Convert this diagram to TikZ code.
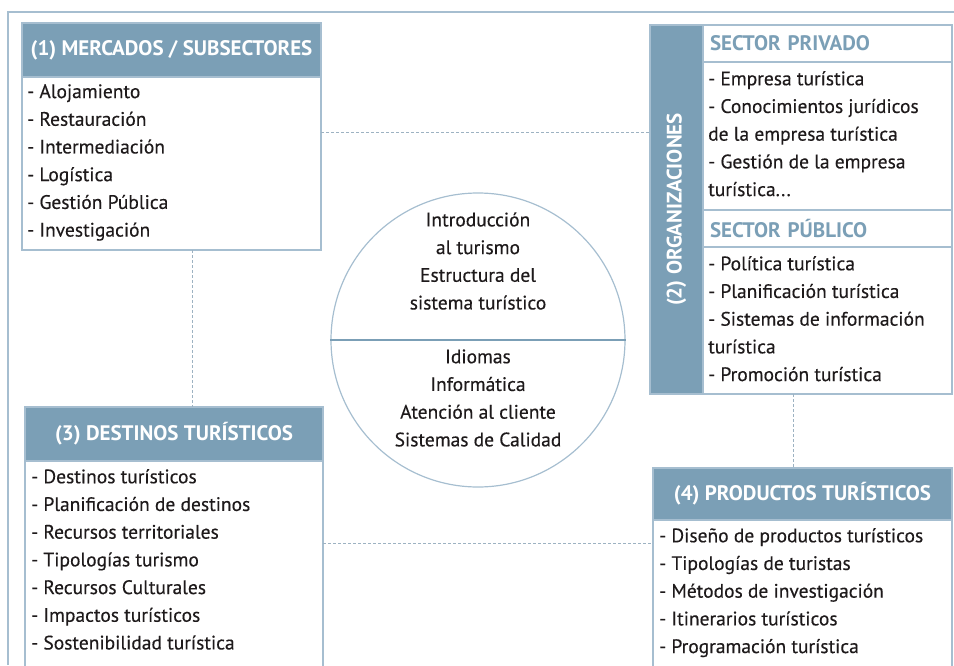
\documentclass[tikz,border=0pt]{standalone}
\usepackage{fontspec}
\setmainfont{PT Sans}
\newfontfamily\listfamily{PT Sans}[FakeBold=0.35]
\usetikzlibrary{positioning}
\definecolor{hdrblue}{HTML}{7B9FB6}
\definecolor{lineblue}{HTML}{A6BED0}
\definecolor{linkgrey}{HTML}{9DB2C2}
\definecolor{inkblack}{HTML}{1E1A1B}
\newcommand{\basefont}{\listfamily\fontsize{19.5pt}{27.7pt}\selectfont}
\newcommand{\headfont}{\fontsize{21pt}{25pt}\selectfont\bfseries}
\tikzset{
  hdr/.style ={fill=hdrblue, draw=lineblue, line width=1.2pt, text=white,
               font=\headfont, inner sep=0pt, outer sep=0pt, anchor=north west},
  frm/.style ={draw=lineblue, line width=1.5pt, inner sep=0pt, outer sep=0pt},
  lst/.style ={align=left, inner sep=0pt, text=inkblack, font=\basefont},
  sub/.style ={draw=lineblue, line width=1.5pt, inner xsep=7pt, inner ysep=0pt,
               outer sep=0pt, text width=235pt, align=left, font=\headfont,
               text=hdrblue, anchor=north west},
  ball/.style={circle, draw=lineblue, line width=1.2pt, minimum size=294pt,
               inner sep=0pt},
  ctxt/.style={align=center, inner sep=0pt, text=inkblack, font=\basefont},
  link/.style={draw=linkgrey, line width=0.9pt, dash pattern=on 3pt off 2pt},
  rim/.style ={draw=lineblue, line width=1.3pt},
}
\begin{document}
\begin{tikzpicture}[x=1pt, y=-1pt]
  \clip (0,0) rectangle (954,665);
  \draw[rim] (8,665) -- (8,12) -- (954,12);
  % ---- (1) mercados / subsectores
  \node[hdr, minimum width=299pt, minimum height=54pt] (mh) at (22,23)
    {(1) MERCADOS / SUBSECTORES};
  \node[frm, minimum width=299pt, minimum height=173pt, below=0pt of mh] (mb) {};
  \node[lst, below right=7pt and 5pt of mb.north west] (ml)
    {- Alojamiento\\- Restauración\\- Intermediación\\- Logística\\
     - Gestión Pública\\- Investigación};
  % ---- (2) organizaciones
  \node[hdr, minimum width=53pt, minimum height=369pt] (ob) at (650,25) {};
  \node[hdr, anchor=center, draw=none, rotate=90] (ot) at (ob.center)
    {(2) ORGANIZACIONES};
  \node[sub, minimum height=37pt] (pph) at (ob.north east) {SECTOR PRIVADO};
  \node[frm, minimum width=249pt, minimum height=148pt, below=0pt of pph] (ppb) {};
  \node[lst, below right=9pt and 5pt of ppb.north west] (ppl)
    {- Empresa turística\\- Conocimientos jurídicos\\de la empresa turística\\
     - Gestión de la empresa\\turística...};
  \node[sub, minimum height=37pt, below=0pt of ppb.south west, anchor=north west]
    (puh) {SECTOR PÚBLICO};
  \node[frm, minimum width=249pt, minimum height=147pt, below=0pt of puh] (pub) {};
  \node[lst, below right=9pt and 5pt of pub.north west] (pul)
    {- Política turística\\- Planificación turística\\- Sistemas de información\\
     turística\\- Promoción turística};
  % ---- (3) destinos
  \node[hdr, minimum width=298pt, minimum height=54pt] (dh) at (25,407)
    {(3) DESTINOS TURÍSTICOS};
  \node[frm, minimum width=298pt, minimum height=230pt, below=0pt of dh] (db) {};
  \node[lst, below right=8pt and 6pt of db.north west] (dl)
    {- Destinos turísticos\\- Planificación de destinos\\- Recursos territoriales\\
     - Tipologías turismo\\- Recursos Culturales\\- Impactos turísticos\\
     - Sostenibilidad turística};
  % ---- (4) productos
  \node[hdr, minimum width=299pt, minimum height=52pt] (ph) at (653,468)
    {(4) PRODUCTOS TURÍSTICOS};
  \node[frm, minimum width=299pt, minimum height=230pt, below=0pt of ph] (pb) {};
  \node[lst, below right=8pt and 6pt of pb.north west] (pl)
    {- Diseño de productos turísticos\\- Tipologías de turistas\\
     - Métodos de investigación\\- Itinerarios turísticos\\
     - Programación turística};
  % ---- centre
  \node[ball] (cb) at (478,340) {};
  \draw[line width=2.5pt, hdrblue] (cb.west) -- (cb.east);
  \node[ctxt] (ct) at (478,261)
    {Introducción\\al turismo\\Estructura del\\sistema turístico};
  \node[ctxt] (cl) at (478,398)
    {Idiomas\\Informática\\Atención al cliente\\Sistemas de Calidad};
  % ---- links
  \draw[link] ([yshift=31.5pt]mb.east) -- ([yshift=31.5pt]mb.east -| ob.west);
  \draw[link] ([xshift=20.5pt]mb.south) -- ([xshift=20.5pt]mb.south |- dh.north);
  \draw[link] ([yshift=-82pt]db.north east) -- ([yshift=-82pt]db.north east -| pb.west);
  \draw[link] ([xshift=-34.5pt]pub.south) -- ([xshift=-34.5pt]pub.south |- ph.north);
\end{tikzpicture}
\end{document}
